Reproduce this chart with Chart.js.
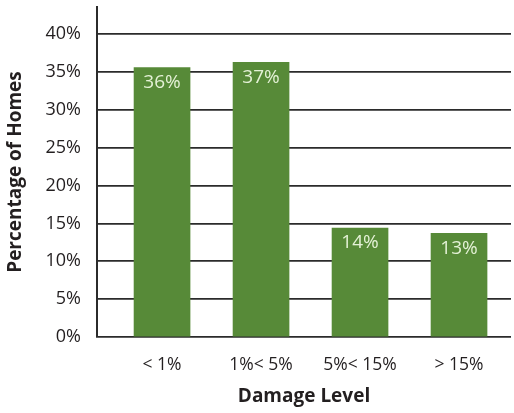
<!DOCTYPE html>
<html>
<head>
<meta charset="utf-8">
<script src="https://cdn.jsdelivr.net/npm/chart.js@4"></script>
<style>
  html, body { margin: 0; padding: 0; background: #fff; }
  #wrap { width: 514px; height: 413px; }
</style>
</head>
<body>
<div id="wrap"><canvas id="chart" width="514" height="413"></canvas></div>
<script>
var categories = ['< 1%', '1%< 5%', '5%< 15%', '> 15%'];
var positions = [0, 1, 2, 3];
var homes = [35.6, 36.3, 14.4, 13.7];
var barLabels = ['36%', '37%', '14%', '13%'];
var yTicks = [0, 5, 10, 15, 20, 25, 30, 35, 40];

var fontName = '"Open Sans", "Noto Sans", sans-serif';
var ink = '#231f20';

// labels written inside the top of each bar
var insideLabels = {
    id: 'insideLabels',
    afterDatasetsDraw: function (chart) {
        var ctx = chart.ctx;
        var meta = chart.getDatasetMeta(0);
        ctx.save();
        ctx.fillStyle = '#e4f1d6';
        ctx.font = '19px ' + fontName;
        ctx.textAlign = 'center';
        ctx.textBaseline = 'middle';
        meta.data.forEach(function (bar, i) {
            ctx.fillText(barLabels[i], bar.x, bar.y + 15);
        });
        ctx.restore();
    }
};

var points = positions.map(function (p, i) { return { x: p, y: homes[i] }; });

new Chart(document.getElementById('chart'), {
    type: 'bar',
    data: {
        datasets: [{
            data: points,
            backgroundColor: '#578a38',
            borderWidth: 0,
            barThickness: 56
        }]
    },
    options: {
        responsive: false,
        animation: false,
        layout: { padding: { top: 7, right: 3, left: 0, bottom: 0 } },
        plugins: { legend: { display: false }, tooltip: { enabled: false } },
        scales: {
            x: {
                type: 'linear',
                offset: false,
                min: -0.657,
                max: 3.525,
                grid: { display: false, offset: false },
                border: { display: false },
                afterBuildTicks: function (scale) {
                    scale.ticks = positions.map(function (v) { return { value: v }; });
                },
                afterFit: function (scale) {
                    scale.height = 76;
                    scale.paddingLeft = 0;
                    scale.paddingRight = 0;
                },
                ticks: {
                    autoSkip: false,
                    maxRotation: 0,
                    padding: 10,
                    color: ink,
                    font: { family: fontName, size: 17.5 },
                    callback: function (v) { return categories[positions.indexOf(v)]; }
                },
                title: {
                    display: true,
                    text: 'Damage Level',
                    color: ink,
                    padding: { top: 0, bottom: 5 },
                    font: { family: fontName, size: 19, weight: 'bold' }
                }
            },
            y: {
                min: 0,
                max: 43.6,
                afterBuildTicks: function (scale) {
                    scale.ticks = yTicks.map(function (v) { return { value: v }; });
                },
                afterFit: function (scale) {
                    scale.width = 97;
                    scale.paddingTop = 0;
                    scale.paddingBottom = 0;
                },
                grid: { color: '#2b2b2b', lineWidth: 1.8, drawTicks: false },
                border: { display: true, color: '#2b2b2b', width: 2 },
                ticks: {
                    padding: 16,
                    color: ink,
                    font: { family: fontName, size: 18 },
                    callback: function (v) { return v + '%'; }
                },
                title: {
                    display: true,
                    text: 'Percentage of Homes',
                    color: ink,
                    padding: { top: 4, bottom: 0 },
                    font: { family: fontName, size: 19, weight: 'bold' }
                }
            }
        }
    },
    plugins: [insideLabels]
});
</script>
</body>
</html>
